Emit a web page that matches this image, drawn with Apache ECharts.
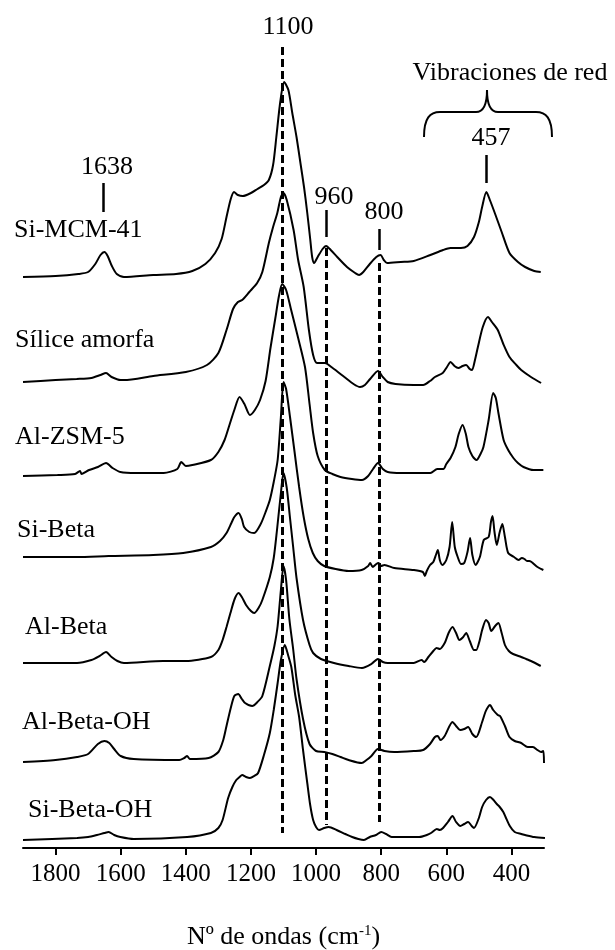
<!DOCTYPE html>
<html><head><meta charset="utf-8">
<script src="https://cdn.jsdelivr.net/npm/echarts@6/dist/echarts.min.js"></script>
<style>html,body{margin:0;padding:0;background:#fff}#c{width:615px;height:950px}</style>
</head><body><div id="c"></div>
<script>
// Sample names (top to bottom) and vertical stacking offsets (a.u.)
const sampleNames = ['Si-MCM-41','Sílice amorfa','Al-ZSM-5','Si-Beta','Al-Beta','Al-Beta-OH','Si-Beta-OH'];
const offsets = [5.71, 4.66, 3.72, 2.91, 1.85, 0.88, 0.08];

// Spectra: [wavenumber cm-1, relative absorbance a.u.]
const siMCM41 = [[1900,0.00],[1800,0.01],[1730,0.03],[1700,0.05],[1678,0.13],[1662,0.22],[1650,0.25],[1640,0.21],[1627,0.11],[1612,0.03],[1590,0.00],[1500,0.02],[1430,0.03],[1380,0.06],[1340,0.13],[1310,0.24],[1290,0.38],[1275,0.60],[1262,0.78],[1252,0.85],[1240,0.82],[1225,0.81],[1200,0.84],[1180,0.88],[1160,0.92],[1145,0.97],[1132,1.12],[1122,1.40],[1110,1.75],[1098,1.95],[1085,1.87],[1073,1.64],[1060,1.40],[1048,1.14],[1037,0.90],[1027,0.64],[1018,0.38],[1012,0.20],[1006,0.14],[995,0.20],[980,0.28],[969,0.31],[955,0.27],[935,0.20],[905,0.10],[880,0.04],[868,0.02],[855,0.05],[835,0.13],[815,0.20],[802,0.22],[792,0.17],[782,0.14],[740,0.15],[700,0.16],[649,0.22],[610,0.27],[587,0.29],[555,0.29],[535,0.31],[515,0.40],[500,0.55],[490,0.70],[477,0.85],[465,0.76],[450,0.63],[430,0.45],[406,0.24],[380,0.15],[358,0.10],[330,0.06],[310,0.05]];
const siliceAmorfa = [[1900,0.00],[1800,0.02],[1735,0.03],[1690,0.04],[1662,0.07],[1645,0.09],[1628,0.05],[1600,0.02],[1590,0.02],[1500,0.06],[1400,0.10],[1335,0.17],[1300,0.29],[1275,0.52],[1255,0.73],[1240,0.80],[1227,0.82],[1205,0.90],[1181,0.99],[1165,1.10],[1145,1.39],[1132,1.55],[1119,1.69],[1108,1.85],[1100,1.89],[1090,1.82],[1069,1.52],[1055,1.22],[1038,0.95],[1022,0.52],[1009,0.27],[997,0.19],[973,0.19],[949,0.14],[913,0.05],[885,-0.02],[865,-0.05],[850,-0.03],[834,0.03],[810,0.11],[795,0.05],[780,0.00],[756,-0.02],[700,-0.03],[671,-0.03],[650,0.01],[635,0.05],[611,0.09],[598,0.15],[587,0.20],[575,0.16],[563,0.14],[550,0.16],[539,0.17],[528,0.13],[521,0.12],[512,0.22],[503,0.35],[488,0.55],[472,0.65],[460,0.60],[442,0.52],[425,0.38],[406,0.25],[385,0.17],[370,0.12],[340,0.05],[309,-0.01]];
const alZSM5 = [[1900,0.00],[1794,0.01],[1740,0.02],[1725,0.05],[1720,0.02],[1697,0.06],[1670,0.09],[1645,0.13],[1625,0.08],[1601,0.04],[1553,0.03],[1468,0.03],[1426,0.07],[1414,0.14],[1400,0.10],[1380,0.11],[1323,0.16],[1300,0.24],[1281,0.36],[1265,0.52],[1251,0.66],[1235,0.79],[1220,0.72],[1203,0.61],[1188,0.66],[1172,0.76],[1155,0.95],[1140,1.28],[1125,1.58],[1114,1.80],[1104,1.92],[1092,1.86],[1078,1.68],[1055,1.38],[1034,1.09],[1020,0.72],[1009,0.43],[995,0.20],[973,0.06],[950,0.02],[925,-0.01],[890,-0.03],[859,-0.04],[840,0.00],[825,0.07],[810,0.13],[795,0.07],[780,0.04],[740,0.03],[708,0.03],[649,0.03],[628,0.07],[609,0.07],[600,0.12],[587,0.18],[572,0.29],[562,0.42],[550,0.51],[540,0.42],[532,0.29],[520,0.20],[507,0.16],[495,0.22],[486,0.29],[470,0.56],[456,0.83],[448,0.78],[440,0.63],[424,0.36],[410,0.26],[394,0.18],[380,0.13],[363,0.09],[332,0.06],[302,0.06]];
const siBeta = [[1900,0.00],[1734,0.00],[1637,0.01],[1500,0.02],[1408,0.04],[1323,0.10],[1295,0.16],[1275,0.24],[1260,0.34],[1251,0.40],[1238,0.44],[1228,0.38],[1221,0.30],[1205,0.25],[1190,0.24],[1170,0.33],[1155,0.45],[1142,0.57],[1130,0.75],[1118,0.97],[1108,1.40],[1100,1.75],[1092,1.68],[1080,1.40],[1066,1.05],[1052,0.70],[1038,0.40],[1024,0.18],[1010,0.04],[995,-0.04],[975,-0.09],[940,-0.12],[900,-0.14],[860,-0.13],[840,-0.09],[834,-0.06],[826,-0.10],[815,-0.07],[808,-0.06],[800,-0.09],[790,-0.08],[760,-0.11],[700,-0.13],[672,-0.15],[666,-0.19],[660,-0.14],[650,-0.08],[640,-0.05],[632,0.02],[626,0.07],[620,-0.03],[612,-0.08],[600,-0.03],[590,0.10],[582,0.35],[574,0.10],[565,0.00],[555,-0.07],[545,-0.06],[535,0.05],[527,0.19],[520,0.02],[510,-0.08],[497,0.00],[485,0.17],[470,0.20],[463,0.35],[458,0.41],[452,0.25],[445,0.12],[436,0.25],[428,0.33],[420,0.20],[410,0.04],[392,0.00],[378,-0.03],[368,-0.01],[360,-0.02],[352,-0.04],[345,-0.04],[320,-0.10],[302,-0.13]];
const alBeta = [[1900,0.00],[1734,0.00],[1690,0.03],[1665,0.07],[1645,0.11],[1628,0.06],[1610,0.02],[1590,0.00],[1470,0.02],[1400,0.02],[1323,0.06],[1300,0.13],[1287,0.23],[1275,0.36],[1263,0.50],[1250,0.64],[1238,0.70],[1228,0.66],[1215,0.58],[1200,0.52],[1190,0.50],[1175,0.56],[1165,0.63],[1142,0.86],[1130,1.05],[1120,1.33],[1108,1.70],[1100,1.90],[1090,1.75],[1080,1.45],[1070,1.15],[1060,0.85],[1040,0.43],[1020,0.18],[1009,0.10],[985,0.04],[945,0.00],[900,-0.03],[859,-0.05],[830,-0.01],[810,0.04],[795,0.01],[780,0.00],[700,0.00],[676,0.03],[668,0.01],[655,0.06],[640,0.12],[630,0.15],[620,0.14],[605,0.20],[593,0.30],[581,0.36],[570,0.30],[560,0.23],[548,0.26],[539,0.30],[528,0.22],[515,0.13],[508,0.13],[498,0.22],[490,0.33],[478,0.43],[470,0.40],[462,0.32],[450,0.37],[440,0.40],[430,0.30],[420,0.18],[408,0.12],[395,0.09],[370,0.06],[355,0.04],[340,0.02],[310,-0.03]];
const alBetaOH = [[1900,-0.02],[1800,0.00],[1734,0.03],[1700,0.06],[1670,0.16],[1650,0.19],[1635,0.17],[1620,0.11],[1600,0.04],[1560,0.01],[1420,0.00],[1405,0.02],[1396,0.04],[1388,0.01],[1330,0.02],[1300,0.08],[1285,0.20],[1275,0.34],[1262,0.52],[1251,0.64],[1239,0.66],[1228,0.61],[1218,0.57],[1196,0.54],[1180,0.58],[1165,0.64],[1142,0.94],[1128,1.14],[1118,1.34],[1108,1.70],[1100,1.94],[1092,1.80],[1082,1.41],[1070,1.10],[1060,0.81],[1040,0.41],[1020,0.16],[1000,0.09],[975,0.08],[950,0.06],[925,0.03],[900,0.00],[860,-0.03],[845,0.00],[830,0.04],[810,0.11],[790,0.09],[760,0.08],[700,0.09],[671,0.10],[650,0.16],[635,0.23],[626,0.24],[618,0.20],[605,0.24],[581,0.38],[570,0.34],[557,0.30],[545,0.31],[533,0.33],[520,0.26],[508,0.23],[490,0.38],[480,0.48],[472,0.53],[466,0.55],[456,0.50],[442,0.45],[435,0.44],[420,0.34],[406,0.23],[390,0.19],[370,0.17],[350,0.13],[334,0.13],[320,0.10],[309,0.08],[302,0.09],[300,-0.03]];
const siBetaOH = [[1900,0.00],[1734,0.02],[1700,0.03],[1673,0.05],[1650,0.07],[1637,0.08],[1620,0.05],[1601,0.03],[1560,0.01],[1396,0.03],[1323,0.07],[1300,0.12],[1287,0.20],[1270,0.42],[1257,0.53],[1245,0.60],[1235,0.63],[1227,0.65],[1215,0.63],[1203,0.62],[1190,0.64],[1178,0.67],[1160,0.85],[1142,1.07],[1130,1.30],[1118,1.57],[1108,1.80],[1096,1.95],[1086,1.85],[1076,1.73],[1064,1.45],[1052,1.23],[1040,0.90],[1027,0.57],[1018,0.35],[1009,0.20],[1000,0.13],[991,0.10],[975,0.12],[961,0.13],[937,0.10],[910,0.06],[889,0.03],[870,0.01],[853,0.00],[835,0.03],[816,0.05],[800,0.08],[785,0.06],[768,0.03],[720,0.03],[683,0.03],[660,0.05],[647,0.07],[629,0.11],[620,0.10],[610,0.12],[595,0.18],[581,0.24],[570,0.18],[557,0.14],[545,0.16],[533,0.18],[522,0.14],[515,0.12],[500,0.22],[490,0.33],[478,0.40],[466,0.43],[455,0.40],[445,0.36],[436,0.33],[425,0.28],[418,0.23],[405,0.14],[390,0.08],[370,0.06],[358,0.05],[330,0.03],[297,0.02]];
const spectra = [siMCM41, siliceAmorfa, alZSM5, siBeta, alBeta, alBetaOH, siBetaOH];

// Axis ticks
const tickValues = [400, 600, 800, 1000, 1200, 1400, 1600, 1800];

// Dashed reference lines (wavenumber, top, bottom in a.u.)
const dashedPositions = [1104, 969, 806];
const dashedTops = [8.01, 6.00, 5.85];
const dashedBottoms = [0.15, 0.23, 0.26];

// Short solid peak markers (1638, 960, 800, 457)
const peakTickPositions = [1654, 969, 806, 478];
const peakTickLow = [6.36, 6.11, 5.98, 6.65];
const peakTickHigh = [6.65, 6.38, 6.19, 6.93];

const chart = echarts.init(document.getElementById('c'), null, {renderer: 'canvas'});

const markData = [];
dashedPositions.forEach((v, i) => {
  markData.push([{coord: [v, dashedTops[i]], lineStyle: {type: [8, 4], width: 3, color: '#000'}}, {coord: [v, dashedBottoms[i]]}]);
});
peakTickPositions.forEach((v, i) => {
  markData.push([{coord: [v, peakTickLow[i]], lineStyle: {type: 'solid', width: 2.5, color: '#000'}}, {coord: [v, peakTickHigh[i]]}]);
});

const series = spectra.map((s, i) => ({
  name: sampleNames[i],
  type: 'line',
  data: s.map(p => [p[0], +(p[1] + offsets[i]).toFixed(3)]),
  showSymbol: false,
  symbol: 'none',
  smooth: 0.25,
  silent: true,
  animation: false,
  lineStyle: {color: '#000', width: 2},
  markLine: i === 0 ? {symbol: ['none', 'none'], silent: true, animation: false, label: {show: false}, data: markData} : undefined
}));

function txt(text, x, y, align) {
  return {type: 'text', silent: true, style: {text: text, x: x, y: y, align: align || 'center', verticalAlign: 'middle', fontFamily: 'Liberation Serif', fontSize: 26, fill: '#000'}};
}
const labelPos = [[14,230],[15,340],[15,437],[17,530],[25,627],[22,722],[28,810]];
const graphics = sampleNames.map((n, i) => txt(n, labelPos[i][0], labelPos[i][1], 'left'));
graphics.push(txt('1100', 288, 27));
graphics.push(txt('1638', 107, 167));
graphics.push(txt('960', 334, 197));
graphics.push(txt('800', 384, 212));
graphics.push(txt('457', 491, 138));
graphics.push(txt('Vibraciones de red', 510, 73));
const braceStyle = {stroke: '#000', lineWidth: 2, fill: 'none'};
graphics.push({type: 'bezierCurve', silent: true, shape: {x1: 424, y1: 137, cpx1: 424, cpy1: 118, cpx2: 430, cpy2: 112, x2: 440, y2: 112}, style: braceStyle});
graphics.push({type: 'line', silent: true, shape: {x1: 440, y1: 112, x2: 476, y2: 112}, style: braceStyle});
graphics.push({type: 'bezierCurve', silent: true, shape: {x1: 476, y1: 112, cpx1: 484, cpy1: 112, cpx2: 487, cpy2: 104, x2: 487, y2: 90}, style: braceStyle});
graphics.push({type: 'bezierCurve', silent: true, shape: {x1: 487, y1: 90, cpx1: 487, cpy1: 104, cpx2: 490, cpy2: 112, x2: 498, y2: 112}, style: braceStyle});
graphics.push({type: 'line', silent: true, shape: {x1: 498, y1: 112, x2: 536, y2: 112}, style: braceStyle});
graphics.push({type: 'bezierCurve', silent: true, shape: {x1: 536, y1: 112, cpx1: 546, cpy1: 112, cpx2: 552, cpy2: 118, x2: 552, y2: 137}, style: braceStyle});

chart.setOption({
  animation: false,
  backgroundColor: '#fff',
  grid: {left: 23, right: 71, top: 0, bottom: 102, containLabel: false, outerBoundsMode: 'none'},
  xAxis: {
    type: 'value', min: 300, max: 1900, inverse: true,
    axisLine: {onZero: false, lineStyle: {color: '#000', width: 2}},
    axisTick: {show: true, customValues: tickValues, length: 7, lineStyle: {color: '#000', width: 2}},
    axisLabel: {customValues: tickValues, formatter: v => String(v), color: '#000', fontFamily: 'Liberation Serif', fontSize: 25, margin: 14},
    splitLine: {show: false},
    name: '{a|Nº de ondas (cm}{b|-1}{a|)}',
    nameLocation: 'middle', nameGap: 76,
    nameTextStyle: {color: '#000', rich: {
      a: {fontFamily: 'Liberation Serif', fontSize: 26, color: '#000'},
      b: {fontFamily: 'Liberation Serif', fontSize: 15, color: '#000', verticalAlign: 'top'}
    }}
  },
  yAxis: {type: 'value', min: 0, max: 8.48, show: false},
  series: series,
  graphic: graphics
});
</script>
</body></html>
